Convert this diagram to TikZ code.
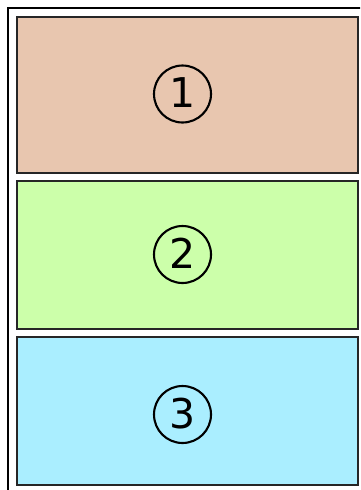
\documentclass[tikz,border=0pt]{standalone}
\usepackage{fontspec}
\newfontfamily\dejavu{DejaVu Sans}
\definecolor{peach}{HTML}{E8C6AF}
\definecolor{lgreen}{HTML}{CCFFAA}
\definecolor{lblue}{HTML}{AAEEFF}
\begin{document}
\begin{tikzpicture}[x=1pt,y=-1pt,
  panel/.style={draw=black!85,line width=1.6pt,minimum width=341pt,inner sep=0pt,anchor=north west},
  num/.style={circle,draw=black,line width=2.1pt,minimum size=57pt,inner sep=0pt,font=\dejavu\fontsize{41}{41}\selectfont}]
\useasboundingbox (0,0) rectangle (360,490);
\clip (0,0) rectangle (360,490);
\draw[line width=1.8pt] (8,8) rectangle (380,510);
\node[panel,fill=peach,minimum height=156pt] (p1) at (16,16) {};
\node[panel,fill=lgreen,minimum height=148pt] (p2) at (16,180) {};
\node[panel,fill=lblue,minimum height=148pt] (p3) at (16,336) {};
\node[num] (n1) at (182.5,94) {\raisebox{2pt}{1}};
\node[num] (n2) at (182.5,254.5) {\raisebox{2pt}{2}};
\node[num] (n3) at (182.5,414.5) {\raisebox{2pt}{3}};
\end{tikzpicture}
\end{document}
